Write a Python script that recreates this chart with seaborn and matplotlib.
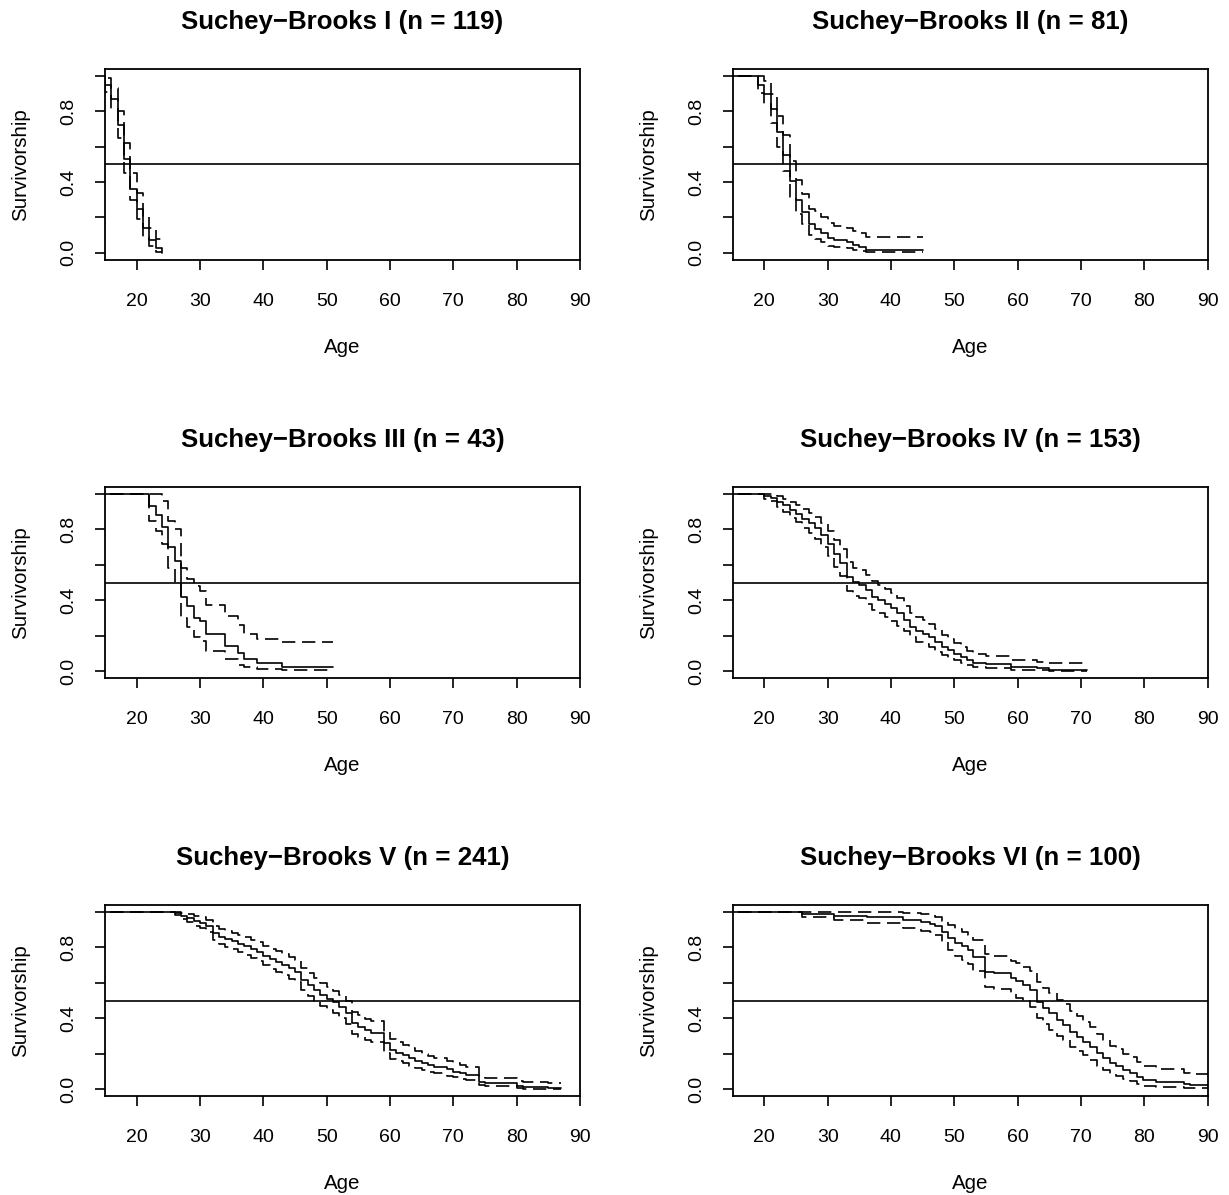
import numpy as np
import matplotlib
matplotlib.use("Agg")
import matplotlib.pyplot as plt
import seaborn as sns

# Kaplan-Meier survivorship per Suchey-Brooks phase
titles = ["Suchey\u2212Brooks I (n = 119)", "Suchey\u2212Brooks II (n = 81)",
          "Suchey\u2212Brooks III (n = 43)", "Suchey\u2212Brooks IV (n = 153)",
          "Suchey\u2212Brooks V (n = 241)", "Suchey\u2212Brooks VI (n = 100)"]

p1_age = [15, 16, 17, 18, 19, 20, 21, 22, 23, 24]
p1_surv = [0.95, 0.87, 0.72, 0.53, 0.36, 0.25, 0.14, 0.07, 0.025, 0.0]
p1_upper = [0.99, 0.93, 0.80, 0.62, 0.45, 0.34, 0.21, 0.14, 0.08]
p1_lower = [0.91, 0.81, 0.65, 0.45, 0.30, 0.19, 0.09, 0.04, 0.006]
p1_end = 24

p2_age = [19, 20, 21, 22, 23, 24, 25, 26, 27, 28, 29, 30, 31, 33, 34, 35, 36]
p2_surv = [0.95, 0.90, 0.815, 0.68, 0.555, 0.405, 0.30, 0.23, 0.16, 0.135, 0.11,
           0.085, 0.07, 0.06, 0.045, 0.03, 0.015]
p2_upper = [1.0, 0.97, 0.90, 0.775, 0.665, 0.52, 0.41, 0.33, 0.25, 0.235, 0.20,
            0.17, 0.15, 0.14, 0.125, 0.11, 0.088]
p2_lower = [0.905, 0.84, 0.735, 0.595, 0.46, 0.315, 0.22, 0.16, 0.10, 0.08, 0.06,
            0.04, 0.03, 0.025, 0.015, 0.008, 0.003]
p2_end = 45

p3_age = [22, 23, 24, 25, 26, 27, 28, 29, 30, 31, 34, 36, 37, 39, 43]
p3_surv = [0.93, 0.88, 0.815, 0.70, 0.62, 0.42, 0.37, 0.30, 0.28, 0.21, 0.14,
           0.10, 0.07, 0.047, 0.023]
p3_upper = [1.0, 1.0, 0.96, 0.85, 0.80, 0.58, 0.52, 0.48, 0.45, 0.375, 0.31,
            0.26, 0.21, 0.18, 0.165]
p3_lower = [0.85, 0.79, 0.72, 0.58, 0.49, 0.30, 0.25, 0.19, 0.17, 0.115, 0.07,
            0.035, 0.02, 0.01, 0.004]
p3_end = 51

p4_age = [20, 21, 22, 23, 24, 25, 26, 27, 28, 29, 30, 31, 32, 33, 34, 35, 36, 37,
          38, 39, 40, 41, 42, 43, 44, 45, 46, 47, 48, 49, 50, 51, 52, 53, 55, 59,
          63, 65]
p4_surv = [0.99, 0.98, 0.957, 0.938, 0.91, 0.89, 0.862, 0.834, 0.806, 0.768, 0.72,
           0.664, 0.61, 0.532, 0.504, 0.485, 0.457, 0.419, 0.40, 0.381, 0.357,
           0.325, 0.287, 0.25, 0.225, 0.211, 0.192, 0.164, 0.136, 0.117, 0.098,
           0.079, 0.06, 0.047, 0.038, 0.023, 0.015, 0.008]
p4_upper = [1.0, 1.0, 0.99, 0.975, 0.955, 0.94, 0.915, 0.895, 0.87, 0.835, 0.79,
            0.74, 0.69, 0.615, 0.585, 0.57, 0.54, 0.51, 0.485, 0.465, 0.44, 0.41,
            0.37, 0.33, 0.305, 0.29, 0.265, 0.235, 0.205, 0.18, 0.16, 0.135,
            0.115, 0.095, 0.085, 0.06, 0.05, 0.045]
p4_lower = [0.975, 0.96, 0.925, 0.90, 0.865, 0.84, 0.81, 0.78, 0.745, 0.70, 0.65,
            0.59, 0.535, 0.455, 0.425, 0.41, 0.38, 0.345, 0.325, 0.305, 0.285,
            0.255, 0.225, 0.19, 0.165, 0.15, 0.135, 0.11, 0.09, 0.075, 0.06,
            0.045, 0.032, 0.022, 0.015, 0.008, 0.004, 0.001]
p4_end = 71

p5_age = [26, 27, 28, 29, 30, 31, 32, 33, 34, 35, 36, 37, 38, 39, 40, 41, 42, 43,
          44, 45, 46, 47, 48, 49, 50, 51, 52, 53, 54, 55, 56, 57, 59, 60, 61, 62,
          63, 64, 65, 66, 67, 69, 70, 71, 72, 74, 75, 80, 81, 85]
p5_surv = [0.994, 0.98, 0.965, 0.95, 0.94, 0.92, 0.88, 0.862, 0.847, 0.834, 0.82,
           0.806, 0.79, 0.777, 0.753, 0.734, 0.72, 0.70, 0.683, 0.664, 0.617,
           0.589, 0.56, 0.532, 0.508, 0.489, 0.466, 0.432, 0.372, 0.353, 0.334,
           0.319, 0.258, 0.221, 0.206, 0.192, 0.174, 0.158, 0.145, 0.136, 0.126,
           0.111, 0.098, 0.089, 0.079, 0.042, 0.032, 0.017, 0.009, 0.004]
p5_upper = [1.0, 0.997, 0.988, 0.978, 0.972, 0.955, 0.92, 0.905, 0.893, 0.882,
            0.87, 0.858, 0.845, 0.833, 0.81, 0.793, 0.78, 0.762, 0.745, 0.728,
            0.682, 0.655, 0.626, 0.598, 0.575, 0.555, 0.532, 0.497, 0.437, 0.417,
            0.397, 0.383, 0.32, 0.28, 0.265, 0.25, 0.23, 0.213, 0.198, 0.187,
            0.176, 0.16, 0.145, 0.135, 0.122, 0.075, 0.063, 0.047, 0.038, 0.035]
p5_lower = [0.985, 0.963, 0.942, 0.923, 0.91, 0.886, 0.842, 0.82, 0.803, 0.79,
            0.772, 0.757, 0.74, 0.725, 0.70, 0.678, 0.664, 0.643, 0.624, 0.605,
            0.557, 0.528, 0.498, 0.47, 0.446, 0.427, 0.404, 0.37, 0.313, 0.295,
            0.277, 0.263, 0.206, 0.172, 0.158, 0.145, 0.13, 0.116, 0.105, 0.097,
            0.088, 0.076, 0.065, 0.058, 0.05, 0.022, 0.016, 0.006, 0.002, 0.0006]
p5_end = 87

p6_age = [26, 31, 36.2, 41.9, 44.8, 46.2, 46.9, 48, 49, 50.1, 51.2, 52.2, 53, 54.8,
          56.2, 59, 59.8, 60.9, 61.9, 63, 64, 65, 66.2, 67.2, 68.3, 69.3, 70.4,
          71.4, 72.5, 73.5, 74.6, 75.6, 76.7, 77.7, 78.8, 79.8, 81.9, 86.2, 87.2]
p6_surv = [0.99, 0.98, 0.97, 0.953, 0.943, 0.934, 0.919, 0.89, 0.853, 0.825,
           0.806, 0.787, 0.749, 0.664, 0.655, 0.626, 0.608, 0.589, 0.56, 0.494,
           0.457, 0.428, 0.39, 0.362, 0.325, 0.296, 0.268, 0.24, 0.202, 0.174,
           0.145, 0.13, 0.108, 0.089, 0.066, 0.051, 0.042, 0.028, 0.023]
p6_upper = [1.0, 1.0, 1.0, 0.995, 0.99, 0.985, 0.975, 0.95, 0.925, 0.905, 0.888,
            0.872, 0.84, 0.762, 0.752, 0.725, 0.71, 0.692, 0.665, 0.605, 0.57,
            0.545, 0.505, 0.478, 0.44, 0.41, 0.38, 0.35, 0.31, 0.278, 0.245,
            0.228, 0.2, 0.18, 0.15, 0.13, 0.112, 0.093, 0.085]
p6_lower = [0.97, 0.953, 0.938, 0.91, 0.896, 0.885, 0.868, 0.83, 0.785, 0.75,
            0.73, 0.708, 0.665, 0.575, 0.565, 0.535, 0.515, 0.495, 0.465, 0.4,
            0.365, 0.335, 0.3, 0.275, 0.24, 0.213, 0.19, 0.165, 0.132, 0.11,
            0.085, 0.075, 0.057, 0.045, 0.027, 0.018, 0.013, 0.006, 0.004]
p6_end = 92

panels = [
    (p1_age, p1_surv, p1_upper, p1_lower, p1_end),
    (p2_age, p2_surv, p2_upper, p2_lower, p2_end),
    (p3_age, p3_surv, p3_upper, p3_lower, p3_end),
    (p4_age, p4_surv, p4_upper, p4_lower, p4_end),
    (p5_age, p5_surv, p5_upper, p5_lower, p5_end),
    (p6_age, p6_surv, p6_upper, p6_lower, p6_end),
]

sns.set_style("ticks")
plt.rcParams['font.family'] = ['Liberation Sans', 'DejaVu Sans']
plt.rcParams['axes.linewidth'] = 1.3
for key in ['text.color', 'axes.labelcolor', 'xtick.color', 'ytick.color',
            'axes.edgecolor']:
    plt.rcParams[key] = 'black'


def steps(ax, age, vals, end, ls):
    # survival starts at 1 before the first event, last level runs to end
    x = [0] + list(age[:len(vals)]) + [end]
    y = [1.0] + list(vals) + [vals[-1]]
    sns.lineplot(x=x, y=y, ax=ax, drawstyle='steps-post', color='black',
                 lw=1.2, linestyle=ls, estimator=None, sort=False)


fig = plt.figure(figsize=(12.29, 11.95), dpi=100)
lefts = [105 / 1229, 732.6 / 1229]
bottoms = [0.7826, 0.4326, 0.0828]
w, h = 475 / 1229, 191 / 1195

for i, (age, surv, upper, lower, end) in enumerate(panels):
    ax = fig.add_axes([lefts[i % 2], bottoms[i // 2], w, h])
    steps(ax, age, surv, end, '-')
    steps(ax, age, upper, end, (0, (8, 4)))
    steps(ax, age, lower, end, (0, (8, 4)))
    ax.axhline(0.5, color='black', lw=1.2)

    ax.set_xlim(15, 90)
    ax.set_ylim(-0.04, 1.04)
    ax.set_xticks(np.arange(20, 91, 10))
    ax.set_yticks([0, 0.2, 0.4, 0.6, 0.8, 1.0])
    ax.set_yticklabels(["0.0", "", "0.4", "", "0.8", ""], rotation=90, va='center')
    ax.tick_params(length=7, width=1.2, labelsize=14, color='black',
                   labelcolor='black')
    ax.tick_params(axis='x', pad=17)
    ax.tick_params(axis='y', pad=13)

    ax.set_title(titles[i], fontsize=18.6, fontweight='bold', pad=29,
                 color='black')
    ax.set_xlabel("Age", fontsize=14.8, va='center')
    ax.set_ylabel("Survivorship", fontsize=14.8, va='center')
    ax.xaxis.set_label_coords(0.5, -0.458)
    ax.yaxis.set_label_coords(-0.178, 0.5)

fig.savefig("out.png", dpi=100)
